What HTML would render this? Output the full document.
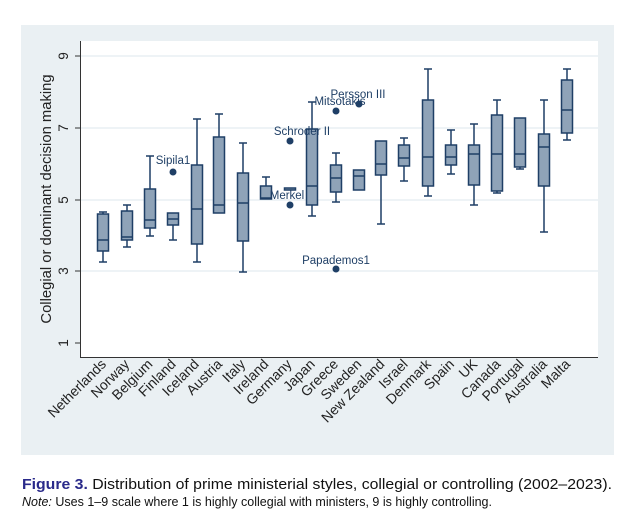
<!DOCTYPE html>
<html><head><meta charset="utf-8"><style>
html,body{margin:0;padding:0;background:#fff;width:626px;height:520px;overflow:hidden}
svg{display:block}
text{font-family:"Liberation Sans",sans-serif}
</style></head><body>
<svg width="626" height="520" viewBox="0 0 626 520" xmlns="http://www.w3.org/2000/svg">
<rect x="21" y="25" width="593" height="430" fill="#eaf0f3"/>
<rect x="80" y="41" width="518" height="317" fill="#fff"/>
<g stroke="#e3ecf0" stroke-width="1.2">
<line x1="80" x2="598" y1="56" y2="56"/><line x1="80" x2="598" y1="128" y2="128"/>
<line x1="80" x2="598" y1="200" y2="200"/><line x1="80" x2="598" y1="271" y2="271"/>
</g>
<g stroke="#333" stroke-width="1">
<line x1="80.5" x2="80.5" y1="41" y2="358"/><line x1="80" x2="598" y1="357.5" y2="357.5"/>
<line x1="75" x2="80" y1="56" y2="56"/><line x1="75" x2="80" y1="128" y2="128"/>
<line x1="75" x2="80" y1="200" y2="200"/><line x1="75" x2="80" y1="271" y2="271"/>
<line x1="75" x2="80" y1="343" y2="343"/>
</g>
<g font-size="13.5" fill="#222" text-anchor="middle">
<text transform="translate(68,56) rotate(-90)">9</text>
<text transform="translate(68,128) rotate(-90)">7</text>
<text transform="translate(68,200) rotate(-90)">5</text>
<text transform="translate(68,271) rotate(-90)">3</text>
<text transform="translate(68,343) rotate(-90)">1</text>
<text transform="translate(51,199) rotate(-90)" font-size="14.8">Collegial or dominant decision making</text>
</g>
<g stroke="#1f3f66" stroke-width="1.5" fill="none">
<path d="M103 212V214M103 251V262M99 212H107M99 262H107"/>
<path d="M127 205V211M127 240V247M123 205H131M123 247H131"/>
<path d="M150 156V189M150 228V236M146 156H154M146 236H154"/>
<path d="M173 225V240M169 240H177"/>
<path d="M197 119V165M197 244V262M193 119H201M193 262H201"/>
<path d="M219 114V137M215 114H223"/>
<path d="M243 143V173M243 241V272M239 143H247M239 272H247"/>
<path d="M266 177V186M262 177H270"/>
<path d="M312 102V129M312 205V216M308 102H316M308 216H316"/>
<path d="M336 153V165M336 192V202M332 153H340M332 202H340"/>
<path d="M381 175V224M377 224H385"/>
<path d="M404 138V145M404 166V181M400 138H408M400 181H408"/>
<path d="M428 69V100M428 186V196M424 69H432M424 196H432"/>
<path d="M451 130V145M451 165V174M447 130H455M447 174H455"/>
<path d="M474 124V145M474 185V205M470 124H478M470 205H478"/>
<path d="M497 100V115M497 191V193M493 100H501M493 193H501"/>
<path d="M520 167V169M516 169H524"/>
<path d="M544 100V134M544 186V232M540 100H548M540 232H548"/>
<path d="M567 69V80M567 133V140M563 69H571M563 140H571"/>
</g>
<g stroke="#1f3f66" stroke-width="1.5" fill="#8fa3b8">
<rect x="97.5" y="214" width="11" height="37"/>
<rect x="121.5" y="211" width="11" height="29"/>
<rect x="144.5" y="189" width="11" height="39"/>
<rect x="167.5" y="213" width="11" height="12"/>
<rect x="191.5" y="165" width="11" height="79"/>
<rect x="213.5" y="137" width="11" height="76"/>
<rect x="237.5" y="173" width="11" height="68"/>
<rect x="260.5" y="186" width="11" height="13"/>
<rect x="284.5" y="188" width="11" height="2"/>
<rect x="306.5" y="129" width="11" height="76"/>
<rect x="330.5" y="165" width="11" height="27"/>
<rect x="353.5" y="170" width="11" height="20"/>
<rect x="375.5" y="141" width="11" height="34"/>
<rect x="398.5" y="145" width="11" height="21"/>
<rect x="422.5" y="100" width="11" height="86"/>
<rect x="445.5" y="145" width="11" height="20"/>
<rect x="468.5" y="145" width="11" height="40"/>
<rect x="491.5" y="115" width="11" height="76"/>
<rect x="514.5" y="118" width="11" height="49"/>
<rect x="538.5" y="134" width="11" height="52"/>
<rect x="561.5" y="80" width="11" height="53"/>
</g>
<g stroke="#1f3f66" stroke-width="1.5" fill="none">
<path d="M97.5 240H108.5M121.5 237H132.5M144.5 220H155.5M167.5 219H178.5M191.5 209H202.5M213.5 205H224.5M237.5 203H248.5M260.5 198H271.5M306.5 186H317.5M330.5 178H341.5M353.5 176H364.5M375.5 164H386.5M398.5 158H409.5M422.5 157H433.5M445.5 157H456.5M468.5 154H479.5M491.5 154H502.5M514.5 154H525.5M538.5 147H549.5M561.5 110H572.5"/>
</g>
<g fill="#1f3f66">
<circle cx="173" cy="172" r="3.5"/><circle cx="290" cy="141" r="3.5"/><circle cx="290" cy="205" r="3.5"/>
<circle cx="336" cy="111" r="3.5"/><circle cx="336" cy="269" r="3.5"/><circle cx="359" cy="104" r="3.5"/>
</g>
<g font-size="11.5" fill="#1f3f66" text-anchor="middle">
<text x="173" y="164">Sipila1</text><text x="302" y="135">Schroder II</text><text x="287" y="199">Merkel</text>
<text x="340" y="105">Mitsotakis</text><text x="358" y="98">Persson III</text><text x="336" y="264">Papademos1</text>
</g>
<g font-size="14" fill="#222" text-anchor="end">
<text transform="translate(107,365) rotate(-45)">Netherlands</text>
<text transform="translate(130.2,365) rotate(-45)">Norway</text>
<text transform="translate(153.4,365) rotate(-45)">Belgium</text>
<text transform="translate(176.6,365) rotate(-45)">Finland</text>
<text transform="translate(199.8,365) rotate(-45)">Iceland</text>
<text transform="translate(223,365) rotate(-45)">Austria</text>
<text transform="translate(246.2,365) rotate(-45)">Italy</text>
<text transform="translate(269.4,365) rotate(-45)">Ireland</text>
<text transform="translate(292.6,365) rotate(-45)">Germany</text>
<text transform="translate(315.8,365) rotate(-45)">Japan</text>
<text transform="translate(339,365) rotate(-45)">Greece</text>
<text transform="translate(362.2,365) rotate(-45)">Sweden</text>
<text transform="translate(385.4,365) rotate(-45)">New Zealand</text>
<text transform="translate(408.6,365) rotate(-45)">Israel</text>
<text transform="translate(431.8,365) rotate(-45)">Denmark</text>
<text transform="translate(455,365) rotate(-45)">Spain</text>
<text transform="translate(478.2,365) rotate(-45)">UK</text>
<text transform="translate(501.4,365) rotate(-45)">Canada</text>
<text transform="translate(524.6,365) rotate(-45)">Portugal</text>
<text transform="translate(547.8,365) rotate(-45)">Australia</text>
<text transform="translate(571,365) rotate(-45)">Malta</text>
</g>
<text x="22" y="489" font-size="15" fill="#2a2a8a" textLength="590" lengthAdjust="spacingAndGlyphs"><tspan font-weight="bold">Figure 3.</tspan><tspan fill="#111"> Distribution of prime ministerial styles, collegial or controlling (2002–2023).</tspan></text>
<text x="22" y="506" font-size="12.5" fill="#111" textLength="470" lengthAdjust="spacingAndGlyphs"><tspan font-style="italic">Note:</tspan> Uses 1–9 scale where 1 is highly collegial with ministers, 9 is highly controlling.</text>
</svg>
</body></html>
